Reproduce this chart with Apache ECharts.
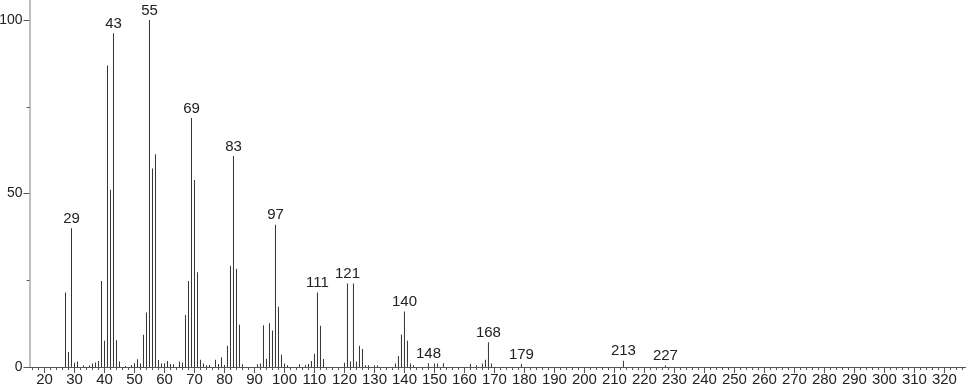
<!DOCTYPE html>
<html>
<head>
<meta charset="utf-8">
<script src="https://cdn.jsdelivr.net/npm/echarts@6/dist/echarts.min.js"></script>
<style>
html,body{margin:0;padding:0;background:#fff;}
#chart{width:966px;height:389px;}
</style>
</head>
<body>
<div id="chart"></div>
<script>
// m/z values and relative intensities
var mz = [27,28,29,30,31,33,35,36,37,38,39,40,41,42,43,44,45,47,49,50,51,52,53,54,55,56,57,58,59,60,61,62,63,65,66,67,68,69,70,71,72,73,74,75,77,78,79,80,81,82,83,84,85,86,91,92,93,94,95,96,97,98,99,100,101,105,107,108,109,110,111,112,113,120,121,122,123,124,125,126,127,128,130,131,137,138,139,140,141,142,143,148,150,151,153,162,164,166,167,168,169,179,213,227];
var intensity = [21.5,4.3,40.0,1.2,1.6,0.4,0.4,1.0,1.3,1.7,24.8,7.6,86.9,51.1,96.2,7.7,1.6,0.3,0.5,1.1,2.2,1.0,9.3,15.7,100,57.2,61.3,2.0,1.0,1.1,1.7,0.9,0.8,1.6,1.3,15.0,24.8,71.8,53.9,27.3,2.1,1.0,0.5,0.6,2.1,0.9,2.8,0.6,6.1,29.2,60.8,28.3,12.2,0.8,0.8,1.0,12.0,2.4,12.6,10.5,41.0,17.4,3.5,1.0,0.5,0.8,0.5,0.9,1.7,3.8,21.5,11.9,2.3,1.2,24.1,1.6,24.1,1.6,6.1,5.2,0.5,0.5,0.4,0.4,1.0,3.2,9.4,16.0,7.6,1.0,0.5,1.1,1.0,1.0,1.1,0.9,0.5,1.0,2.1,7.1,1.0,0.9,1.8,0.4];
var labeledPeaks = [29,43,55,69,83,97,111,121,140,148,168,179,213,227];
var xTickLabels = [20,30,40,50,60,70,80,90,100,110,120,130,140,150,160,170,180,190,200,210,220,230,240,250,260,270,280,290,300,310,320];
var yTickLabels = [0,50,100];
var yMinorTicks = [25,75];

var xMinorTicks = [];
for (var t = 16; t <= 326; t += 2) xMinorTicks.push(t);

var FONT = '"Liberation Sans", Arial, sans-serif';

var data = mz.map(function(m, i){
  var item = {value:[m, intensity[i]]};
  if (labeledPeaks.indexOf(m) >= 0) {
    item.label = {show:true};
  }
  return item;
});

var chart = echarts.init(document.getElementById('chart'), null, {renderer:'canvas'});
var xMin = 15, xMax = 327.2, yMax = 105.8;
chart.setOption({
  animation:false,
  backgroundColor:'#fff',
  grid:{left:29.5, right:0, top:0, bottom:22, containLabel:false, outerBoundsMode:'none'},
  xAxis:[{
    type:'value', min:xMin, max:xMax, position:'bottom',
    axisLine:{show:true, lineStyle:{color:'#555', width:1}},
    axisTick:{show:true, customValues:xTickLabels, length:6, lineStyle:{color:'#555'}},
    axisLabel:{show:true, customValues:xTickLabels, margin:5, color:'#222', fontSize:15, fontFamily:FONT},
    splitLine:{show:false}
  },{
    type:'value', min:xMin, max:xMax, position:'bottom',
    axisLine:{show:false},
    axisTick:{show:true, customValues:xMinorTicks, length:3, lineStyle:{color:'#555'}},
    axisLabel:{show:false},
    splitLine:{show:false}
  }],
  yAxis:[{
    type:'value', min:0, max:yMax, position:'left',
    axisLine:{show:true, lineStyle:{color:'#aaa', width:1.5}},
    axisTick:{show:true, customValues:yTickLabels, length:6, lineStyle:{color:'#555'}},
    axisLabel:{show:true, customValues:yTickLabels, margin:7, color:'#222', fontSize:14, fontFamily:FONT},
    splitLine:{show:false}
  },{
    type:'value', min:0, max:yMax, position:'left',
    axisLine:{show:false},
    axisTick:{show:true, customValues:yMinorTicks, length:3, lineStyle:{color:'#555'}},
    axisLabel:{show:false},
    splitLine:{show:false}
  }],
  series:[{
    type:'bar',
    xAxisIndex:0, yAxisIndex:0,
    barWidth:1,
    itemStyle:{color:'#333'},
    label:{show:false, position:'top', distance:2, color:'#222', fontSize:15, fontFamily:FONT,
      formatter:function(p){return String(p.value[0]);}},
    data:data
  }]
});
</script>
</body>
</html>
